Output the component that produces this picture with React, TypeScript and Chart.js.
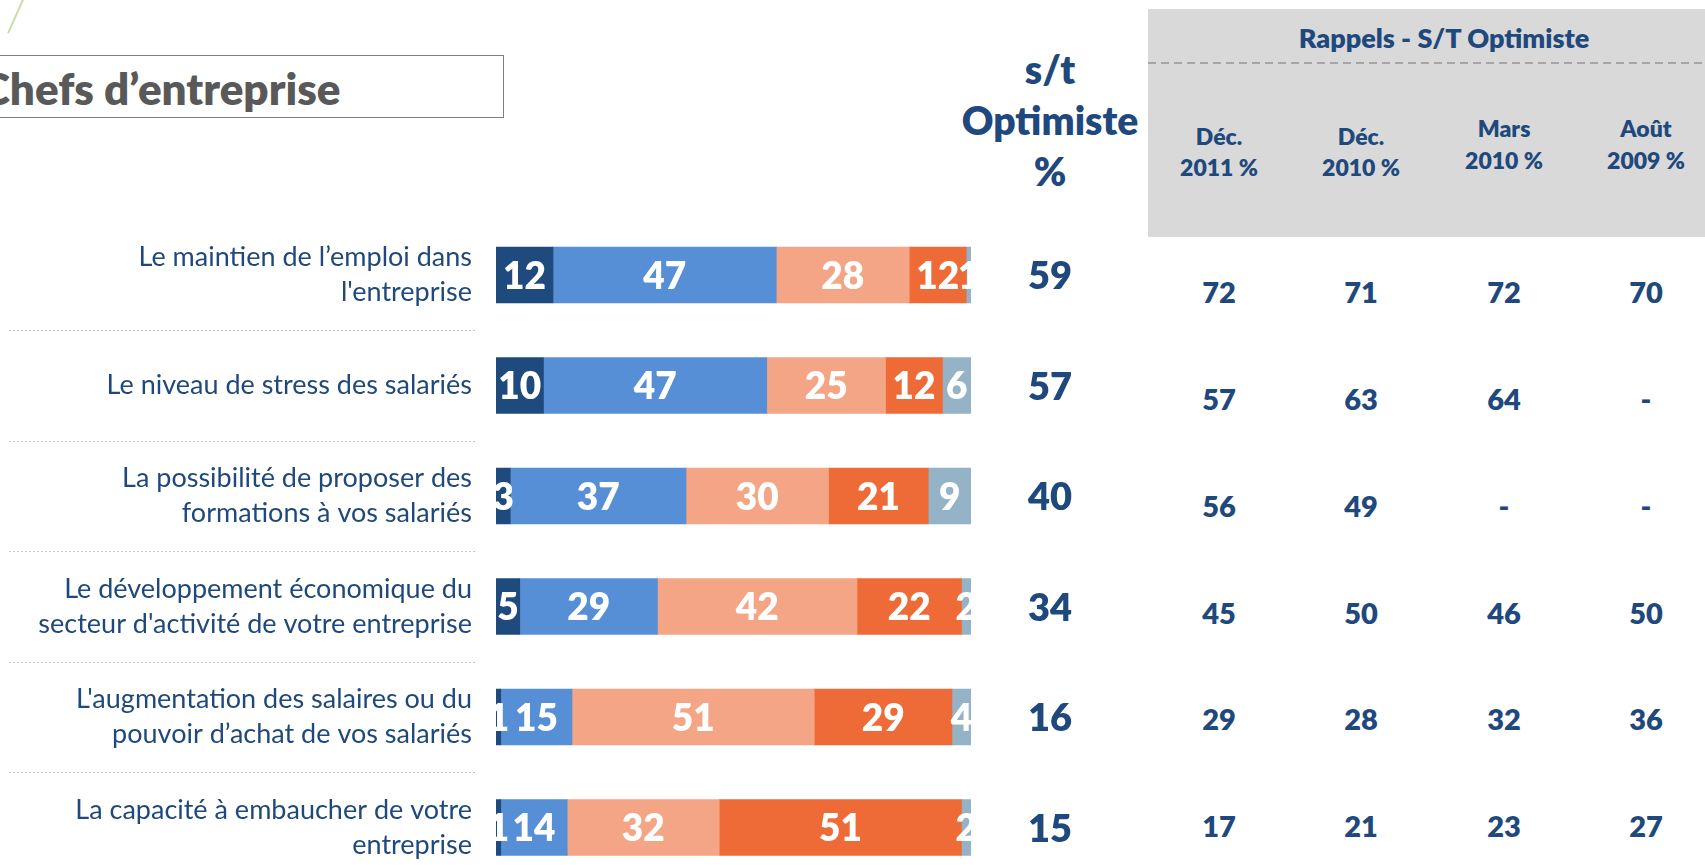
import React, { useEffect, useRef } from "react";
import { Chart, registerables } from "chart.js";

Chart.register(...registerables);

const categories: (string | string[])[] = [
  ["Le maintien de l’emploi dans", "l'entreprise"],
  "Le niveau de stress des salariés",
  ["La possibilité de proposer des", "formations à vos salariés"],
  ["Le développement économique du", "secteur d'activité de votre entreprise"],
  ["L'augmentation des salaires ou du", "pouvoir d’achat de vos salariés"],
  ["La capacité à embaucher de votre", "entreprise"],
];

const seriesNames = ["Très optimiste", "Plutôt optimiste", "Plutôt pessimiste", "Très pessimiste", "Ne se prononce pas"];
const tresOptimiste = [12, 10, 3, 5, 1, 1];
const plutotOptimiste = [47, 47, 37, 29, 15, 14];
const plutotPessimiste = [28, 25, 30, 42, 51, 32];
const tresPessimiste = [12, 12, 21, 22, 29, 51];
const nspp = [1, 6, 9, 2, 4, 2];

const stOptimiste = [59, 57, 40, 34, 16, 15];

const rappelHeaders = [
  ["Déc.", "2011 %"],
  ["Déc.", "2010 %"],
  ["Mars", "2010 %"],
  ["Août", "2009 %"],
];
const dec2011 = [72, 57, 56, 45, 29, 17];
const dec2010 = [71, 63, 49, 50, 28, 21];
const mars2010 = [72, 64, null, 46, 32, 23];
const aout2009 = [70, null, null, 50, 36, 27];

const COLORS = ["#1F4A7E", "#568FD5", "#F4A586", "#EE6A37", "#95B3C6"];
const NAVY = "#1F497D";
const FONT = "Lato, 'Open Sans', sans-serif";
const BOLD = 800;

const rappelCols = [dec2011, dec2010, mars2010, aout2009];
const colX = [1219, 1361, 1504, 1646];
const headerY = [[136, 167], [136, 167], [128, 160], [128, 160]];
const rowY = [291, 398, 505, 612, 718, 825];

export default function App() {
  const ref = useRef<HTMLCanvasElement | null>(null);

  useEffect(() => {
    if (!ref.current) return;
    const seriesData = [tresOptimiste, plutotOptimiste, plutotPessimiste, tresPessimiste, nspp];

    const labelsPlugin = {
      id: "segLabels",
      afterDatasetsDraw(chart: any) {
        const ctx = chart.ctx;
        const area = chart.chartArea;
        ctx.save();
        ctx.beginPath();
        ctx.rect(area.left, area.top, area.right - area.left, area.bottom - area.top);
        ctx.clip();
        ctx.fillStyle = "#FFFFFF";
        ctx.font = `${BOLD} 37px ${FONT}`;
        ctx.textAlign = "center";
        ctx.textBaseline = "middle";
        chart.data.datasets.forEach((ds: any, i: number) => {
          const meta = chart.getDatasetMeta(i);
          meta.data.forEach((bar: any, j: number) => {
            const p = bar.getProps(["x", "y", "base"], true);
            const cx = (p.x + p.base) / 2;
            ctx.fillText(String(ds.data[j]), cx, p.y + 2);
          });
        });
        ctx.restore();

        // s/t Optimiste values and separators
        const yScale = chart.scales.y;
        ctx.save();
        ctx.fillStyle = NAVY;
        ctx.font = `${BOLD} 38px ${FONT}`;
        ctx.textAlign = "center";
        ctx.textBaseline = "middle";
        stOptimiste.forEach((v, j) => {
          ctx.fillText(String(v), 1050, yScale.getPixelForValue(j) + 2);
        });
        ctx.strokeStyle = "#C4C4C4";
        ctx.lineWidth = 1;
        ctx.setLineDash([2, 2]);
        for (let j = 0; j < categories.length - 1; j++) {
          const y = Math.round((yScale.getPixelForValue(j) + yScale.getPixelForValue(j + 1)) / 2) + 0.5;
          ctx.beginPath();
          ctx.moveTo(9, y);
          ctx.lineTo(475, y);
          ctx.stroke();
        }
        ctx.restore();
      },
    };

    const chart = new Chart(ref.current, {
      type: "bar",
      data: {
        labels: categories,
        datasets: seriesData.map((d, i) => ({
          label: seriesNames[i],
          data: d,
          backgroundColor: COLORS[i],
          borderWidth: 0,
          barThickness: 56,
        })),
      },
      options: {
        indexAxis: "y",
        responsive: false,
        animation: false,
        layout: { padding: { left: 0, right: 734, top: 219.75, bottom: 117.25 } },
        plugins: { legend: { display: false }, tooltip: { enabled: false } },
        scales: {
          x: { stacked: true, min: 0, max: 100, display: false },
          y: {
            stacked: true,
            grid: { display: false, drawTicks: false },
            border: { display: false },
            ticks: {
              color: NAVY,
              padding: 24,
              font: { family: FONT, size: 27, lineHeight: 1.3 },
            },
            afterFit(scale: any) {
              scale.width = 496;
            },
          },
        },
      },
      plugins: [labelsPlugin],
    } as any);
    return () => chart.destroy();
  }, []);

  const txt = (size: number): React.CSSProperties => ({
    position: "absolute",
    transform: "translate(-50%, -50%)",
    fontSize: size,
    fontWeight: BOLD,
    color: NAVY,
    lineHeight: 1,
    whiteSpace: "nowrap",
  });

  return (
    <div
      style={{
        position: "fixed",
        left: 0,
        top: 0,
        width: 1705,
        height: 865,
        overflow: "hidden",
        background: "#FFFFFF",
        fontFamily: FONT,
      }}
    >
      {/* decorative green line */}
      <div
        style={{
          position: "absolute",
          left: -4,
          top: 14,
          width: 40,
          height: 1.5,
          background: "#C9DDA6",
          transform: "rotate(-66deg)",
          transformOrigin: "center",
        }}
      />
      {/* title box */}
      <div
        style={{
          position: "absolute",
          left: -4,
          top: 55,
          width: 508,
          height: 63,
          border: "1.5px solid #7F7F7F",
          boxSizing: "border-box",
        }}
      />
      <div
        style={{
          position: "absolute",
          left: -19,
          top: 88,
          transform: "translateY(-50%)",
          fontSize: 44,
          fontWeight: BOLD,
          color: "#595959",
          lineHeight: 1,
          whiteSpace: "nowrap",
        }}
      >
        Chefs d’entreprise
      </div>

      {/* s/t Optimiste header */}
      {["s/t", "Optimiste", "%"].map((t, i) => (
        <div key={t} style={{ ...txt(39), left: 1050, top: [69, 120, 171][i] }}>
          {t}
        </div>
      ))}

      {/* Rappels panel */}
      <div
        style={{
          position: "absolute",
          left: 1148,
          top: 9,
          width: 600,
          height: 228,
          background: "#D9D9D9",
        }}
      />
      <div
        style={{
          position: "absolute",
          left: 1148,
          top: 62,
          width: 600,
          height: 2,
          background: "repeating-linear-gradient(to right, #A6A6A6 0 8px, transparent 8px 13px)",
        }}
      />
      <div style={{ ...txt(27), left: 1444, top: 37 }}>Rappels - S/T Optimiste</div>
      {rappelHeaders.map((lines, c) =>
        lines.map((t, k) => (
          <div key={`h${c}-${k}`} style={{ ...txt(23), left: colX[c], top: headerY[c][k] }}>
            {t}
          </div>
        ))
      )}
      {rappelCols.map((col, c) =>
        col.map((v, r) => (
          <div key={`v${c}-${r}`} style={{ ...txt(29), left: colX[c], top: rowY[r] }}>
            {v === null ? "-" : String(v)}
          </div>
        ))
      )}

      <canvas
        ref={ref}
        width={1705}
        height={1000}
        style={{ position: "absolute", left: 0, top: 0, width: 1705, height: 1000 }}
      />
    </div>
  );
}
